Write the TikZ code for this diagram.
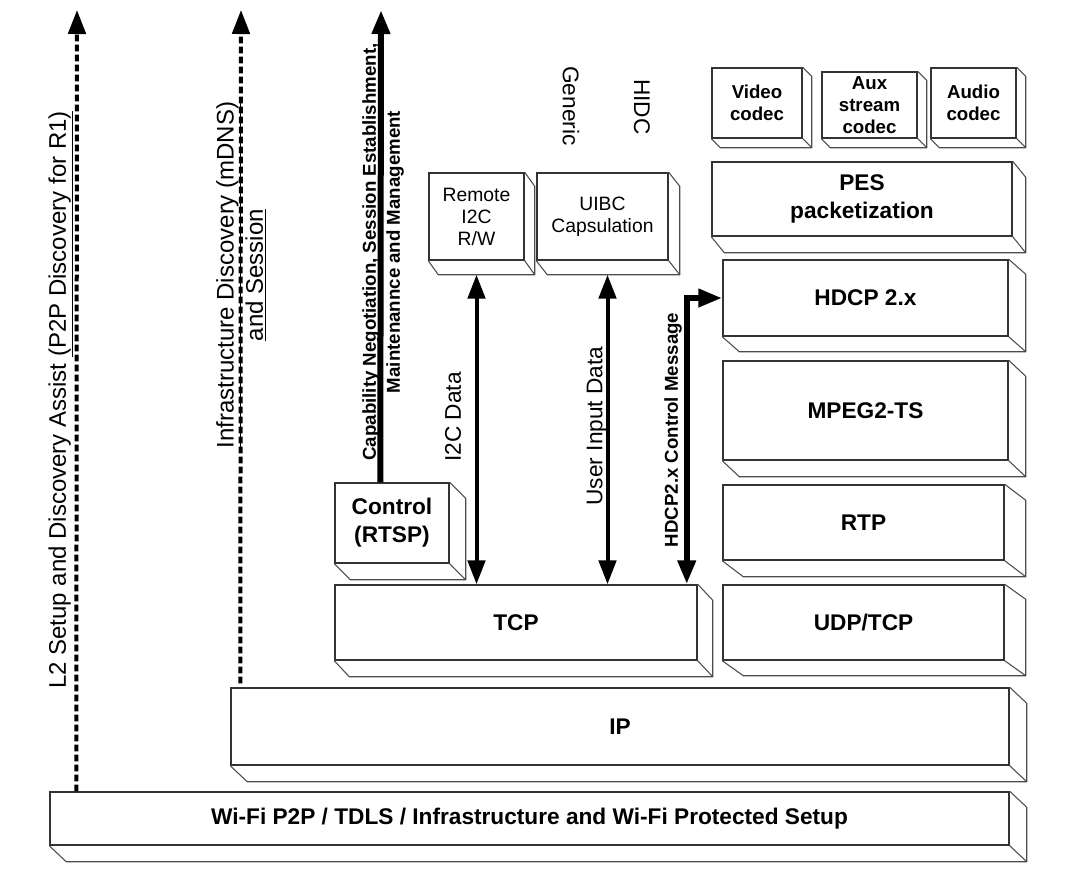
\documentclass[tikz,border=0pt]{standalone}
\usepackage{fontspec}
\setmainfont{Liberation Sans}
\usetikzlibrary{arrows.meta,calc}

\begin{document}
\begin{tikzpicture}[x=0.75pt, y=-0.75pt,
  layer/.style={draw=black!80, line width=1.1pt, inner sep=1pt, align=center,
    font=\bfseries\fontsize{17}{21}\selectfont},
  codec/.style={layer, font=\bfseries\fontsize{14}{16.5}\selectfont},
  plainbox/.style={layer, font=\fontsize{14.5}{16.5}\selectfont},
  side/.style={draw=black!70, line width=0.8pt, line join=round},
  arr/.style={->, >={Triangle[length=18pt,width=13pt]}, line width=3pt},
  disc/.style={arr, dash pattern=on 5pt off 2.5pt},
  note/.style={rotate=90, align=center, font=\fontsize{17}{21}\selectfont},
  tag/.style={rotate=-90, font=\fontsize{17}{21}\selectfont}
]
  \useasboundingbox (0,0) rectangle (1080,875);

  % link and network layers
  \node[layer, minimum width=719.25pt, minimum height=39.75pt,
    font=\bfseries\fontsize{17}{20}\selectfont] (wifi) at (529.5,818.5)
    {Wi-Fi P2P / TDLS / Infrastructure and Wi-Fi Protected Setup};
  \node[layer, minimum width=583.5pt, minimum height=57.75pt] (ip) at (620,726.5) {IP};

  % transport
  \node[layer, minimum width=271.5pt, minimum height=56.25pt] (tcp) at (516,622.5) {TCP};
  \node[layer, minimum width=210.75pt, minimum height=56.25pt] (udp) at (863.5,622.5) {UDP/TCP};
  \node[layer, minimum width=85.5pt, minimum height=60pt] (ctrl) at (392,523) {Control\\(RTSP)};

  % media stack
  \node[layer, minimum width=210.75pt, minimum height=56.25pt] (rtp) at (863.5,522.5) {RTP};
  \node[layer, minimum width=213.75pt, minimum height=74.25pt] (mpeg) at (865.5,410.5) {MPEG2-TS};
  \node[layer, minimum width=213.75pt, minimum height=57pt] (hdcp) at (865.5,298) {HDCP 2.x};
  \node[layer, minimum width=225pt, minimum height=55.5pt] (pes) at (862,199) {PES\\packetization};
  \node[codec, minimum width=67.5pt, minimum height=52.5pt] (vcodec) at (757,103) {Video\\codec};
  \node[codec, minimum width=71.25pt, minimum height=49.5pt] (auxcodec) at (869.5,105) {Aux\\stream\\codec};
  \node[codec, minimum width=63.75pt, minimum height=52.5pt] (acodec) at (973.5,103) {Audio\\codec};

  % UIBC side
  \node[plainbox, minimum width=71.25pt, minimum height=65.25pt] (rw) at (476.5,216.5) {Remote\\I2C\\R/W};
  \node[plainbox, minimum width=98.25pt, minimum height=65.25pt] (uibc) at (602.5,216.5) {UIBC\\Capsulation};

  % 3D sides
  \foreach \n/\dx/\dy in {wifi/17/16, ip/17/16, tcp/15/16, udp/21/15, ctrl/16/16,
      rtp/21/16, mpeg/17/16, hdcp/17/15, pes/13/16, vcodec/9/9, auxcodec/9/9,
      acodec/9/9, rw/10/14, uibc/11/14} {
    \draw[side] (\n.north east) -- ++(\dx,\dy) -- ($(\n.south east)+(\dx,\dy)$)
      -- ($(\n.south west)+(\dx,\dy)$) -- (\n.south west);
    \draw[side] (\n.south east) -- ++(\dx,\dy);
  }

  % vertical labels
  \node[note, font=\fontsize{18}{22}\selectfont] (l2lbl) at (61,400)
    {L2 Setup and Discovery Assist \underline{(P2P Discovery for R1)}};
  \node[note, font=\fontsize{18}{22}\selectfont] (infralbl) at (241,275)
    {\underline{Infrastructure Discovery (mDNS)}\\\underline{and Session}};
  \node[note, font=\bfseries\fontsize{14}{18}\selectfont] (caplbl) at (383,252)
    {Capability Negotiation, Session Establishment,\\Maintenannce and Management};
  \node[note] (i2clbl) at (453,417) {I2C Data};
  \node[note] (uidlbl) at (597,426) {User Input Data};
  \node[note, font=\bfseries\fontsize{14}{17}\selectfont] (hdcplbl) at (673,430)
    {HDCP2.x Control Message};
  \node[tag] (generic) at (571,106) {Generic};
  \node[tag] (hidc) at (642,107) {HIDC};

  % arrows
  \coordinate (l2top) at (77,10);
  \coordinate (infratop) at (241,10);
  \coordinate (captop) at (381,10);
  \coordinate (rwfoot) at ($(rw.south)+(0,14)$);
  \coordinate (uibcfoot) at ($(uibc.south)+(5,14)$);
  \draw[disc] ($(wifi.north west)+(27,0)$) -- (l2top);
  \draw[disc] ($(ip.north west)+(10,-4)$) -- (infratop);
  \draw[arr, line width=4.5pt] ($(ctrl.north west)+(46,0)$) -- (captop);
  \draw[arr, <->] (rwfoot) -- (rwfoot |- tcp.north);
  \draw[arr, <->] (uibcfoot) -- (uibcfoot |- tcp.north);
  \draw[arr, <->, line width=4.5pt] (hdcp.west) -| ($(tcp.north east)+(-11,0)$);
\end{tikzpicture}
\end{document}
